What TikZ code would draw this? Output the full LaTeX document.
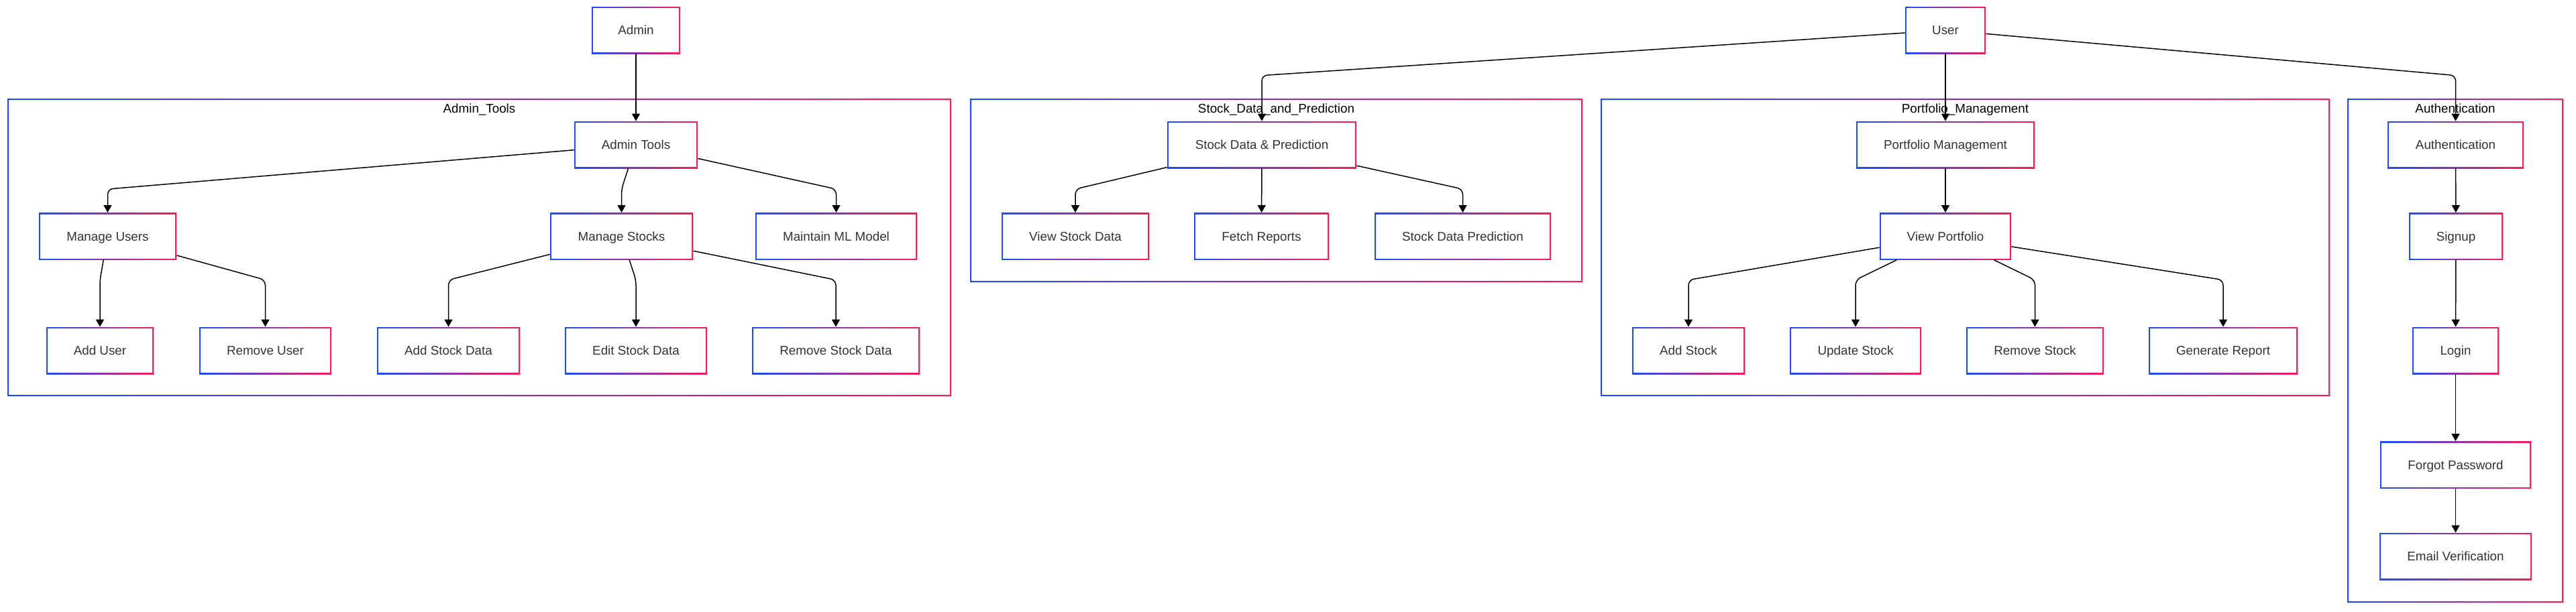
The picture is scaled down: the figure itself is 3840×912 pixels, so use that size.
\documentclass[tikz,border=0pt]{standalone}
\usepackage{fontspec}
\setmainfont{Liberation Sans}
\usetikzlibrary{arrows.meta}
\definecolor{frameBlue}{RGB}{25,75,255}
\definecolor{framePink}{RGB}{255,25,85}
\definecolor{labelGray}{RGB}{51,51,51}
\tikzset{
	flowbox/.style={minimum height=35pt, inner sep=0pt, left color=frameBlue, right color=framePink,
		text=labelGray, font=\fontsize{9.4pt}{11pt}\selectfont, text height=6.73pt, text depth=0pt,
		path picture={\fill[white] ([shift={(1pt,-1pt)}]path picture bounding box.north west)
			rectangle ([shift={(-1pt,1pt)}]path picture bounding box.south east);}},
	flowedge/.style={line width=0.75pt, -{Triangle[length=5.5pt,width=6pt]}, rounded corners=4pt},
	grouptitle/.style={anchor=base, inner sep=0pt, text=black, font=\fontsize{9.4pt}{11pt}\selectfont},
}
\begin{document}
\begin{tikzpicture}[x=0.5pt, y=-0.5pt]

	\useasboundingbox (0,0) rectangle (3840,912);

	\def\groupFrame#1#2#3#4#5#6{
		\shade[left color=frameBlue, right color=framePink, even odd rule]
			(#2,#3) rectangle (#4,#5) (#2+2,#3+2) rectangle (#4-2,#5-2);
		\node[grouptitle] (#1) at ({(#2+#4)/2},168) {#6};
	}
	\def\flowNode#1#2#3#4#5{
		\node[flowbox, minimum width=#4] (#1) at (#2,#3) {#5};
	}
	\def\flowEdge#1#2#3{
		\draw[flowedge] (#1) -- ([yshift=#3]#2.north) -- (#2);
	}

	% groups
	\groupFrame{gAdmin}{11}{147}{1418}{591}{Admin\_Tools};
	\groupFrame{gStock}{1446}{147}{2359}{421}{Stock\_Data\_and\_Prediction};
	\groupFrame{gPortfolio}{2386}{147}{3473}{591}{Portfolio\_Management};
	\groupFrame{gAuth}{3499}{147}{3821}{899}{Authentication};

	% admin side
	\flowNode{admin}{948}{45}{66pt}{Admin};
	\flowNode{tools}{948}{216}{92pt}{Admin Tools};
	\flowNode{users}{160.5}{352.5}{102.5pt}{Manage Users};
	\flowNode{stocks}{926.5}{352.5}{106.5pt}{Manage Stocks};
	\flowNode{mlmodel}{1246.5}{352.5}{120.5pt}{Maintain ML Model};
	\flowNode{adduser}{149}{523}{80pt}{Add User};
	\flowNode{rmuser}{395.5}{523}{98.5pt}{Remove User};
	\flowNode{adddata}{668.5}{523}{106.5pt}{Add Stock Data};
	\flowNode{editdata}{948}{523}{106pt}{Edit Stock Data};
	\flowNode{rmdata}{1246}{523}{125pt}{Remove Stock Data};

	% user side
	\flowNode{user}{2900}{45}{60pt}{User};
	\flowNode{stockpred}{1881}{216}{141pt}{Stock Data \& Prediction};
	\flowNode{viewdata}{1603}{352.5}{110pt}{View Stock Data};
	\flowNode{reports}{1880.5}{352.5}{100.5pt}{Fetch Reports};
	\flowNode{predict}{2180.5}{352.5}{131.5pt}{Stock Data Prediction};
	\flowNode{portfolio}{2900}{216}{133pt}{Portfolio Management};
	\flowNode{viewport}{2900}{352.5}{98pt}{View Portfolio};
	\flowNode{addstock}{2517}{523}{84pt}{Add Stock};
	\flowNode{updstock}{2766}{523}{98pt}{Update Stock};
	\flowNode{rmstock}{3033.5}{523}{102.5pt}{Remove Stock};
	\flowNode{genreport}{3314}{523}{111pt}{Generate Report};
	\flowNode{auth}{3660.5}{216}{101.5pt}{Authentication};
	\flowNode{signup}{3661}{352.5}{70pt}{Signup};
	\flowNode{login}{3660.5}{523}{64.5pt}{Login};
	\flowNode{forgot}{3660.5}{693.5}{112.5pt}{Forgot Password};
	\flowNode{verify}{3660.5}{830}{113.5pt}{Email Verification};

	% edges
	\draw[flowedge] (admin) -- (tools);
	\flowEdge{tools}{users}{17.5pt};
	\flowEdge{tools}{stocks}{17.5pt};
	\flowEdge{tools}{mlmodel}{17.5pt};
	\flowEdge{users}{adduser}{35pt};
	\flowEdge{users}{rmuser}{35pt};
	\flowEdge{stocks}{adddata}{35pt};
	\flowEdge{stocks}{editdata}{35pt};
	\flowEdge{stocks}{rmdata}{35pt};

	\flowEdge{user}{stockpred}{34pt};
	\draw[flowedge] (user) -- (portfolio);
	\flowEdge{user}{auth}{34pt};
	\flowEdge{stockpred}{viewdata}{17.5pt};
	\draw[flowedge] (stockpred) -- (reports);
	\flowEdge{stockpred}{predict}{17.5pt};
	\draw[flowedge] (portfolio) -- (viewport);
	\flowEdge{viewport}{addstock}{35pt};
	\flowEdge{viewport}{updstock}{35pt};
	\flowEdge{viewport}{rmstock}{35pt};
	\flowEdge{viewport}{genreport}{35pt};
	\draw[flowedge] (auth) -- (signup);
	\draw[flowedge] (signup) -- (login);
	\draw[flowedge] (login) -- (forgot);
	\draw[flowedge] (forgot) -- (verify);

\end{tikzpicture}
\end{document}
